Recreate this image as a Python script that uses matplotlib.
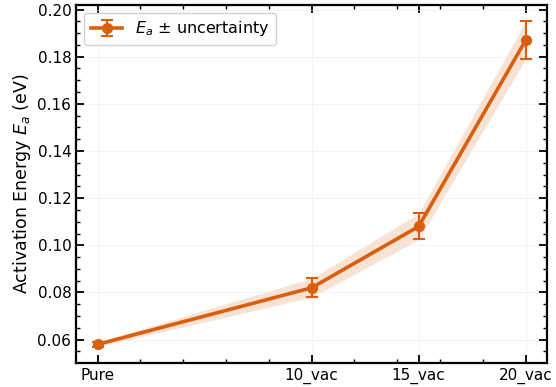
import matplotlib.pyplot as plt
import numpy as np

# vacancy content (%) and fitted activation energies
labels = ["Pure", "10_vac", "15_vac", "20_vac"]
vac = [0, 10, 15, 20]
ea = [0.058, 0.082, 0.108, 0.187]
ea_err = [0.001, 0.004, 0.0055, 0.008]

color = "#d95f0e"

fig = plt.figure(figsize=(5.56, 3.87), dpi=100)
ax = fig.add_axes([0.137, 0.062, 0.847, 0.925])

x = np.array(vac)
y = np.array(ea)
err = np.array(ea_err)

ax.fill_between(x, y - err, y + err, color=color, alpha=0.18, lw=0)
ax.errorbar(x, y, yerr=err, color=color, lw=2.6, marker="o", ms=7,
            capsize=4, capthick=1.5, elinewidth=1.5,
            label=r"$E_a$ $\pm$ uncertainty")

ax.set_xticks(vac)
ax.set_xticklabels(labels)
ax.set_xlim(-1, 21)
ax.minorticks_on()
ax.set_ylabel(r"Activation Energy $E_a$ (eV)", fontsize=12.5, labelpad=3)
ax.tick_params(which="both", direction="in", top=True, right=True, labelsize=11)
ax.tick_params(which="major", length=6, width=1.3)
ax.tick_params(which="minor", length=3, width=1)
for s in ax.spines.values():
    s.set_linewidth(1.6)
ax.grid(True, color="#e8e8e8", lw=0.6, alpha=0.6)
ax.legend(loc="upper left", fontsize=11.5, framealpha=0.9, edgecolor="#cccccc")

fig.savefig("out.png", dpi=100)
